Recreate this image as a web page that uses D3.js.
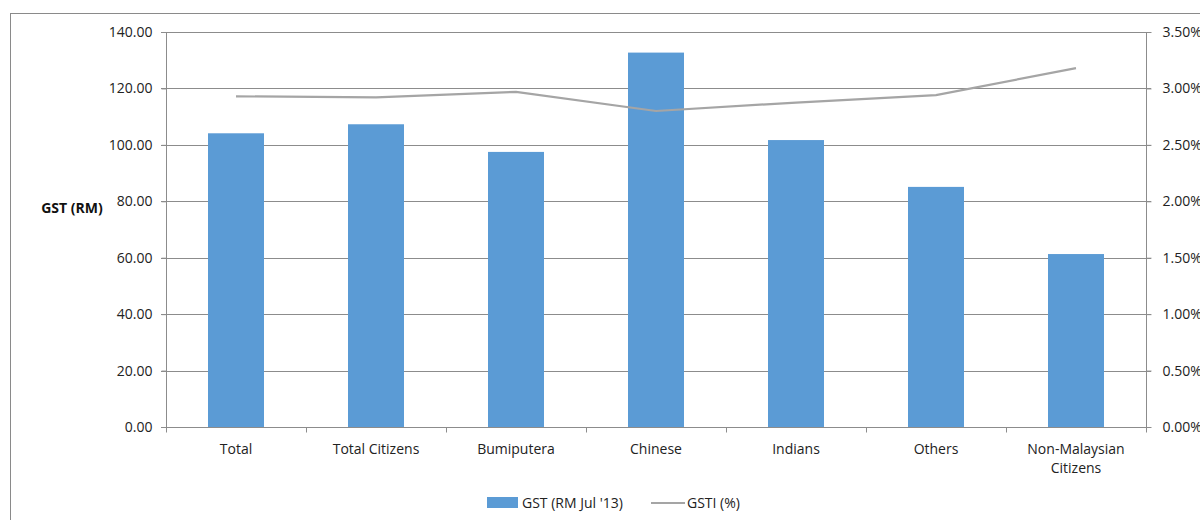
<!DOCTYPE html>
<html>
<head>
<meta charset="utf-8">
<script src="https://cdn.jsdelivr.net/npm/d3@7"></script>
<style>
  html, body { margin: 0; padding: 0; background: #fff; }
  svg { display: block; font-family: "Open Sans", sans-serif; }
</style>
</head>
<body>
<svg id="chart" width="1200" height="520"></svg>
<script>
// Average GST per household group and the GST-to-income ratio
const categories = ["Total", "Total Citizens", "Bumiputera", "Chinese", "Indians", "Others", "Non-Malaysian Citizens"];
const gstValues = [104.1, 107.3, 97.5, 132.7, 101.7, 85.1, 61.3];
const gstiValues = [2.93, 2.92, 2.97, 2.80, 2.875, 2.94, 3.18];
const leftTicks = [0, 20, 40, 60, 80, 100, 120, 140];
const rightTicks = [0, 0.5, 1, 1.5, 2, 2.5, 3, 3.5];
const seriesNames = ["GST (RM Jul '13)", "GSTI (%)"];

const svg = d3.select("#chart");
const plot = { left: 166, right: 1146, top: 32, bottom: 427 };
const font = "'Open Sans', sans-serif";

// outer frame
svg.append("rect").attr("x", 10.5).attr("y", 13.5).attr("width", 1200).attr("height", 520)
  .attr("fill", "none").attr("stroke", "#8a8a8a").attr("stroke-width", 1);

const x = d3.scaleBand().domain(categories).range([plot.left, plot.right]).paddingInner(0).paddingOuter(0);
const yL = d3.scaleLinear().domain([0, 140]).range([plot.bottom, plot.top]);
const yR = d3.scaleLinear().domain([0, 3.5]).range([plot.bottom, plot.top]);

// gridlines
svg.append("g").selectAll("line").data(leftTicks.filter(d => d > 0)).join("line")
  .attr("x1", plot.left - 5).attr("x2", plot.right + 5)
  .attr("y1", d => Math.round(yL(d)) + 0.5).attr("y2", d => Math.round(yL(d)) + 0.5)
  .attr("stroke", "#8c8c8c").attr("stroke-width", 1);

// bars
const barW = x.bandwidth() * 0.4;
svg.append("g").selectAll("rect").data(categories).join("rect")
  .attr("x", (d) => x(d) + (x.bandwidth() - barW) / 2)
  .attr("width", barW)
  .attr("y", (d, i) => yL(gstValues[i]))
  .attr("height", (d, i) => plot.bottom - yL(gstValues[i]))
  .attr("fill", "#5b9bd5");

// GSTI line
const line = d3.line()
  .x((d, i) => x(categories[i]) + x.bandwidth() / 2)
  .y(d => yR(d));
svg.append("path").datum(gstiValues).attr("d", line)
  .attr("fill", "none").attr("stroke", "#a5a5a5").attr("stroke-width", 2.2);

// left axis
const axL = svg.append("g").attr("transform", `translate(${plot.left + 0.5},0)`)
  .call(d3.axisLeft(yL).tickValues(leftTicks).tickFormat(d3.format(".2f")).tickSize(5).tickPadding(9));
// right axis
const axR = svg.append("g").attr("transform", `translate(${plot.right + 0.5},0)`)
  .call(d3.axisRight(yR).tickValues(rightTicks).tickFormat(d => d.toFixed(2) + "%").tickSize(5).tickPadding(11));
// bottom axis with ticks at category boundaries
const boundaries = categories.map(c => x(c)).concat([plot.right]);
const axB = svg.append("g").attr("transform", `translate(0,${plot.bottom + 0.5})`);
axB.append("line").attr("x1", plot.left - 5).attr("x2", plot.right + 5).attr("stroke", "#8c8c8c");
axB.selectAll("line.tk").data(boundaries).join("line").attr("class", "tk")
  .attr("x1", d => Math.round(d) + 0.5).attr("x2", d => Math.round(d) + 0.5)
  .attr("y1", 0).attr("y2", 5).attr("stroke", "#8c8c8c");

[axL, axR].forEach(ax => {
  ax.select(".domain").attr("stroke", "#8c8c8c");
  ax.selectAll(".tick line").attr("stroke", "#8c8c8c");
  ax.selectAll(".tick text").attr("fill", "#222").style("font-size", "14px").style("font-family", font);
});
axL.select(".domain").attr("d", `M0,${plot.top}V${plot.bottom}`);
axR.select(".domain").attr("d", `M0,${plot.top}V${plot.bottom}`);

// category labels (wrapped onto two lines where needed)
const labelLines = { "Non-Malaysian Citizens": ["Non-Malaysian", "Citizens"] };
const lbl = svg.append("g").selectAll("text").data(categories).join("text")
  .attr("x", d => x(d) + x.bandwidth() / 2)
  .attr("y", 454)
  .attr("text-anchor", "middle").attr("fill", "#222").style("font-size", "14px");
lbl.each(function(d) {
  const lines = labelLines[d] || [d];
  d3.select(this).selectAll("tspan").data(lines).join("tspan")
    .attr("x", x(d) + x.bandwidth() / 2).attr("dy", (t, i) => i === 0 ? 0 : 19).text(t => t);
});

// y-axis title
svg.append("text").attr("x", 72).attr("y", 213).attr("text-anchor", "middle")
  .attr("fill", "#111").style("font-size", "14px").style("font-weight", "bold").text("GST (RM)");

// legend
const lg = svg.append("g");
lg.append("rect").attr("x", 487).attr("y", 497).attr("width", 31).attr("height", 11).attr("fill", "#5b9bd5");
lg.append("text").attr("x", 522).attr("y", 508).attr("fill", "#222").style("font-size", "14px").text(seriesNames[0]);
lg.append("line").attr("x1", 651).attr("x2", 685).attr("y1", 503).attr("y2", 503)
  .attr("stroke", "#a5a5a5").attr("stroke-width", 2);
lg.append("text").attr("x", 687).attr("y", 508).attr("fill", "#222").style("font-size", "14px").text(seriesNames[1]);
</script>
</body>
</html>
